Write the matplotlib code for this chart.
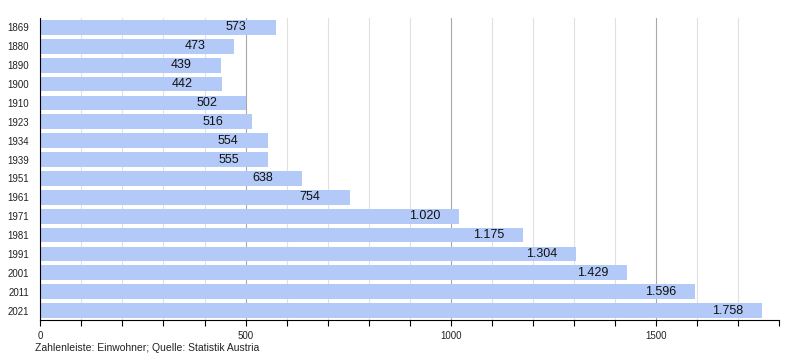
import matplotlib.pyplot as plt
from matplotlib.ticker import MultipleLocator

plt.rcParams['font.family'] = ['Liberation Sans', 'DejaVu Sans']

# census years and inhabitants
years = ["1869", "1880", "1890", "1900", "1910", "1923", "1934", "1939",
         "1951", "1961", "1971", "1981", "1991", "2001", "2011", "2021"]
population = [573, 473, 439, 442, 502, 516, 554, 555,
              638, 754, 1020, 1175, 1304, 1429, 1596, 1758]

fig = plt.figure(figsize=(8, 3.6), dpi=100)
ax = fig.add_axes([0.0504, 0.111, 0.9236, 0.839])

pos = list(range(len(years)))
ax.barh(pos, population, height=0.78, color="#b3c9f8", zorder=2)

for p, v in zip(pos, population):
    label = f"{v:,}".replace(",", ".")
    ax.annotate(label, xy=(v, p), xytext=(-50, 0), textcoords="offset pixels",
                ha="left", va="center", fontsize=9, color="#111111", zorder=3)

ax.set_ylim(len(years) - 0.5, -0.5)
ax.set_yticks(pos)
ax.set_yticklabels(years, fontsize=7, color="#222222")
ax.tick_params(axis="y", length=0, pad=8)

ax.set_xlim(0, 1800)
ax.xaxis.set_major_locator(MultipleLocator(500))
ax.xaxis.set_minor_locator(MultipleLocator(100))
ax.tick_params(axis="x", which="both", direction="out", length=4, width=0.8,
               labelsize=7, labelcolor="#222222", pad=4)
ax.grid(axis="x", which="major", color="#a8a8a8", linewidth=0.8, zorder=0)
ax.grid(axis="x", which="minor", color="#e0e0e0", linewidth=0.8, zorder=0)
ax.set_axisbelow(True)

for s in ["top", "right"]:
    ax.spines[s].set_visible(False)
ax.spines["left"].set_color("black")
ax.spines["bottom"].set_color("black")
ax.spines["left"].set_zorder(4)

fig.text(0.044, 0.026, "Zahlenleiste: Einwohner; Quelle: Statistik Austria",
         fontsize=7.5, color="#222222")

fig.savefig("out.png", dpi=100)
